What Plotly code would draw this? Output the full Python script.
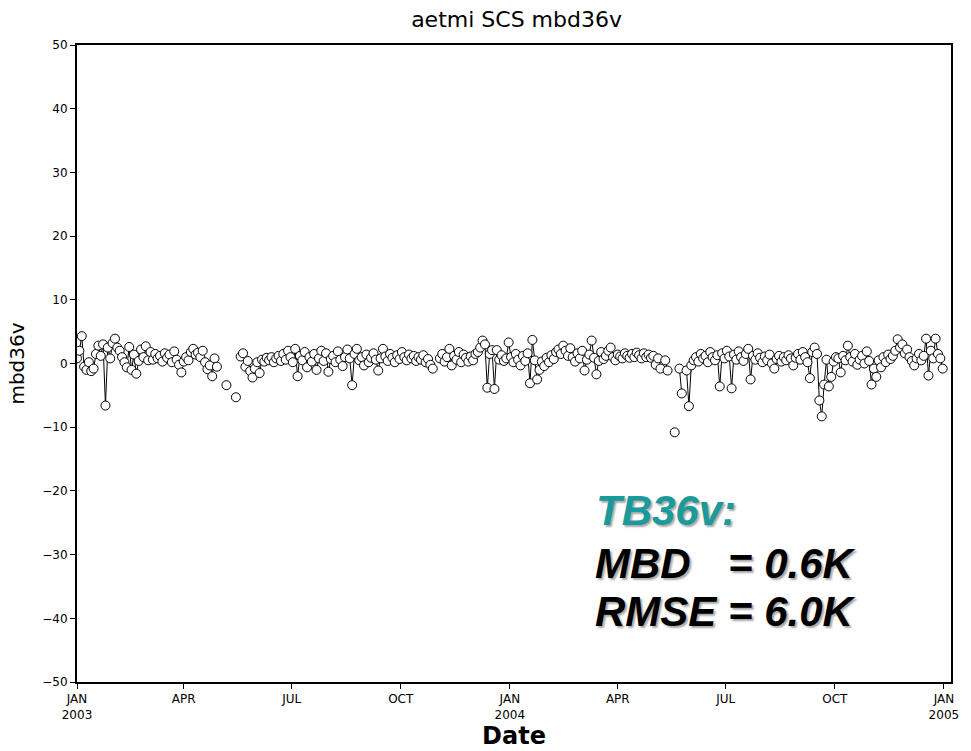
import pandas as pd
import plotly.graph_objects as go

# ---- data (mbd36v, every 2 days starting 1 Jan 2003; None = no data) ----
start_date = "2003-01-01"
step_days = 2
mbd36v = [
    0.8, 2.0, 4.3, -0.5, -1.0, 0.2, -1.2, -0.8, 1.5, 2.8, 1.2, 3.0, -6.6, 2.5, 0.8, 3.2,
    3.9, 2.5, 2.0, 1.0, 0.2, -0.6, 2.6, -1.0, 1.4, -1.6, 0.4, 2.2, 1.0, 2.7, 0.5, 1.8,
    0.6, 1.5, 0.8, 1.2, 0.3, 1.6, 0.9, 1.4, 0.2, 1.9, 0.6, -0.2, -1.4, 0.3, 1.0, 0.5,
    1.8, 2.3, 1.4, 1.7, 1.0, 2.0, 0.2, -0.9, -0.3, -2.0, 0.8, -0.5, None, None, None, -3.4,
    None, None, None, -5.3, None, 1.1, 1.6, -0.5, 0.4, -1.2, -2.2, -0.8, 0.2, -1.5, 0.6, 0.3,
    0.9, 0.5, 1.0, 0.2, 0.8, 1.2, 0.4, 1.5, 0.6, 2.0, 1.0, 0.2, 2.3, -2.0, 1.2, 0.5,
    1.8, -0.6, 1.0, 0.3, 1.5, -1.0, 0.8, 2.0, 0.4, 1.6, -1.3, 0.7, 1.2, 0.2, 1.9, 0.6,
    -0.4, 1.0, 2.2, 0.8, -3.4, 1.5, 2.3, 0.5, 1.0, -0.3, 1.4, 0.2, 0.9, 1.6, 0.6, -1.1,
    0.8, 2.3, 1.1, 0.4, 1.5, 0.9, 0.2, 1.3, 0.7, 1.8, 1.0, 0.5, 1.4, 0.8, 1.2, 0.4,
    1.0, 0.6, 1.3, 0.2, 0.7, -0.2, -0.8, None, None, 0.8, 1.5, 0.3, 1.0, 2.3, -0.3, 1.2,
    0.6, 1.8, 0.2, 1.4, 0.9, 0.3, 1.1, 0.5, 1.5, 1.8, 2.5, 3.6, 3.0, -3.8, 1.5, 2.1,
    -4.0, 2.1, 0.6, 1.3, 0.4, 0.8, 3.3, 1.0, 0.2, 1.5, 0.6, -0.3, 1.2, 0.4, 1.6, -3.1,
    3.7, 0.5, -2.5, -1.0, 0.3, -0.4, 0.9, 0.2, 1.3, 0.7, 1.8, 2.2, 1.5, 2.8, 2.0, 1.2,
    2.4, 1.0, 0.3, 1.6, 0.8, 2.0, -1.1, 0.6, 1.4, 3.6, 0.9, -1.7, 0.4, 1.8, 0.7, 1.2,
    2.0, 2.5, 1.0, 0.5, 1.4, 1.1, 0.8, 1.6, 1.2, 0.9, 1.5, 1.0, 1.7, 1.3, 0.8, 1.6,
    1.0, 1.4, 0.9, 1.2, -0.2, 0.8, -0.8, None, 0.5, -1.1, None, None, -10.8, None, -0.8, -4.7,
    None, -1.1, -6.7, -0.3, 0.5, 1.0, 0.3, 1.5, 0.8, 1.2, 0.2, 1.8, 1.0, 0.5, 1.3, -3.6,
    1.6, 0.8, 2.0, 1.1, -3.9, 1.4, 0.6, 1.9, 1.0, 0.4, 1.5, 2.3, -2.5, 1.2, 0.6, 1.6,
    0.9, 0.2, 1.1, 0.5, 1.4, 0.0, -0.8, 0.7, 1.2, 0.3, 1.0, 0.5, 1.3, 0.8, -0.3, 0.9,
    1.5, 0.6, 1.8, 1.0, 0.2, -2.3, 1.8, 2.5, 1.5, -5.8, -8.3, -3.3, 0.6, -3.6, -2.1, 0.3,
    1.0, 0.8, -1.4, 1.2, 0.5, 2.8, 1.0, 0.3, 1.5, -0.2, 0.6, 1.2, 0.0, 1.9, 0.4, -3.3,
    -0.8, -2.1, 0.5, -0.6, 1.0, 0.2, 1.4, 0.7, 1.2, 2.0, 3.8, 2.5, 3.0, 1.6, 2.2, 1.0,
    0.4, -0.3, 0.8, 1.5, 0.5, 1.2, 3.9, -1.9, 2.0, 0.8, 3.9, 1.5, 0.8, -0.8,
]
dates = pd.date_range(start_date, periods=len(mbd36v), freq=f"{step_days}D")

tick_dates = ["2003-01-01", "2003-04-01", "2003-07-01", "2003-10-01", "2004-01-01",
              "2004-04-01", "2004-07-01", "2004-10-01", "2005-01-01"]
tick_labels = ["JAN<br>2003", "APR", "JUL", "OCT", "JAN<br>2004",
               "APR", "JUL", "OCT", "JAN<br>2005"]
y_ticks = [-50, -40, -30, -20, -10, 0, 10, 20, 30, 40, 50]

title_text = "aetmi SCS mbd36v"
stats_head = "TB36v:"
stats_rows = [("MBD", "= 0.6K"), ("RMSE", "= 6.0K")]

axis_font = "DejaVu Sans, sans-serif"
big_font = "Liberation Sans, Arial, sans-serif"

fig = go.Figure()
fig.add_trace(go.Scatter(
    x=dates, y=mbd36v, mode="lines+markers", connectgaps=False,
    line=dict(color="black", width=1),
    marker=dict(symbol="circle", size=9, color="white",
                line=dict(color="black", width=1)),
    showlegend=False,
))

fig.update_layout(
    width=971, height=751,
    margin=dict(l=77, r=13, t=45, b=66),
    paper_bgcolor="white", plot_bgcolor="white",
    title=dict(text=title_text, x=0.532, xanchor="center", y=0.974, yanchor="middle",
               font=dict(family=axis_font, size=22, color="black")),
    xaxis=dict(
        range=["2003-01-01", "2005-01-07"],
        tickmode="array", tickvals=tick_dates, ticktext=tick_labels,
        ticks="outside", ticklen=5, tickwidth=1, tickcolor="black",
        showgrid=False, zeroline=False,
        showline=True, linecolor="black", linewidth=2, mirror=True,
        tickfont=dict(family=axis_font, size=12, color="black"),
        title=dict(text="Date", standoff=0,
                   font=dict(family=axis_font, size=24, color="black", weight="bold")),
    ),
    yaxis=dict(
        range=[-50, 50], tickmode="array", tickvals=y_ticks,
        ticks="outside", ticklen=5, tickwidth=1, tickcolor="black",
        showgrid=False, zeroline=False,
        showline=True, linecolor="black", linewidth=2, mirror=True,
        tickfont=dict(family=axis_font, size=12, color="black"),
        title=dict(text="mbd36v", standoff=12,
                   font=dict(family=axis_font, size=20, color="black")),
    ),
)

shadow = "2px 2px 2px rgba(0,0,0,0.35)"
fig.add_annotation(
    xref="paper", yref="paper", x=0.592, y=0.269, xanchor="left", yanchor="middle",
    text=stats_head, showarrow=False,
    font=dict(family=big_font, size=42, color="#1a9a9a", weight="bold",
              style="italic", shadow=shadow),
)
row_y = [0.186, 0.110]
for (lab, val), yy in zip(stats_rows, row_y):
    fig.add_annotation(
        xref="paper", yref="paper", x=0.590, y=yy, xanchor="left", yanchor="middle",
        text=lab, showarrow=False,
        font=dict(family=big_font, size=42, color="black", weight="bold",
                  style="italic", shadow=shadow),
    )
    fig.add_annotation(
        xref="paper", yref="paper", x=0.743, y=yy, xanchor="left", yanchor="middle",
        text=val, showarrow=False,
        font=dict(family=big_font, size=42, color="black", weight="bold",
                  style="italic", shadow=shadow),
    )

fig.write_html("out.html")
